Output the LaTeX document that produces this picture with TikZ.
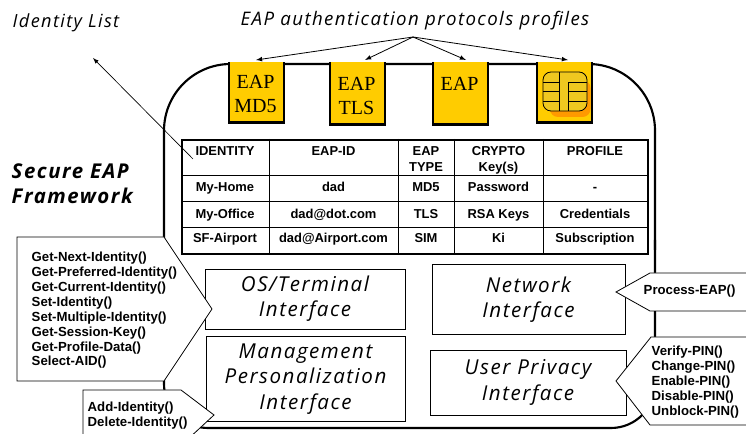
\documentclass[tikz,border=0pt]{standalone}
\usepackage{fontspec}
\setmainfont{Liberation Sans}
\newfontfamily\handfont[LetterSpace=7.5]{Open Sans}
\newfontfamily\tabfont{Liberation Serif}
\definecolor{tabyellow}{HTML}{FFCC00}
\definecolor{chipyellow}{HTML}{EFC820}
\definecolor{chiporange}{HTML}{FF9900}
\tikzset{
  hand/.style={font=\handfont\itshape\fontsize{14}{19}\selectfont},
  iface/.style={draw,fill=white,line width=0.6pt,align=center,font=\handfont\itshape\fontsize{15.4}{18.9}\selectfont},
  cell/.style={align=center,font=\bfseries\fontsize{9.7}{11.8}\selectfont},
  rowcell/.style={cell,anchor=base},
  func/.style={align=left,anchor=west,font=\bfseries\fontsize{9.9}{11.15}\selectfont},
  callout/.style={draw,fill=white,line width=0.6pt},
  frame/.style={line width=1.6pt},
  tabcard/.style={fill=tabyellow,minimum width=41.25pt,minimum height=45pt,inner sep=0pt,anchor=north},
  tabtext/.style={align=center,font=\tabfont\fontsize{15}{17.6}\selectfont}
}
\begin{document}
\begin{tikzpicture}[x=0.75pt,y=-0.75pt]
\useasboundingbox (0,0) rectangle (746,434);
% outer frame
\draw[frame,rounded corners=50pt] (164,250) |- (400,64) -| (655,250);
\draw[frame,rounded corners=33pt] (655,240) |- (400,428) -| (164,240);
% profile cards
\node[tabcard] (md5) at (256.5,62) {};
\node[tabcard,minimum height=46.5pt] (tls) at (357.5,62) {};
\node[tabcard,minimum height=46.5pt] (eap) at (460.5,62) {};
\node[tabcard] (sim) at (564.5,62) {};
\foreach \card in {md5,tls,eap,sim}
  \draw[line width=1.6pt] (\card.north west) |- (\card.south east) -- (\card.north east);
\node[tabtext] (md5text) at (255.5,94) {EAP\\MD5};
\node[tabtext] (tlstext) at (356.5,96) {EAP\\TLS};
\node[tabtext] (eaptext) at (459.5,84) {EAP};
% chip
\fill[chiporange,rounded corners=6pt] (550,80) rectangle (590.5,117);
\draw[fill=chipyellow,rounded corners=6pt,line width=0.6pt] (543,72) rectangle (587,111);
\draw[line width=0.6pt] (559,72) -- (559,111) (543,82) -- (559,82) (543,91) -- (559,91) (543,101) -- (559,101)
  (568,111) -- (568,82) -- (587,82) (568,91.5) -- (587,91.5) (568,101.5) -- (587,101.5);
% titles
\node[hand] (profiles) at (415,21) {EAP authentication protocols profiles};
\node[hand,anchor=west,font=\handfont\itshape\fontsize{13.6}{16}\selectfont] (idlist) at (8,23) {Identity List};
\node[anchor=west,align=left,font=\handfont\bfseries\itshape\fontsize{15.3}{18.6}\selectfont] (secure) at (7,184) {Secure EAP\\Framework};
\coordinate (apex) at (413,37);
\foreach \card/\tipx in {md5/256,tls/365,eap/466,sim/568}
  \draw[-latex,line width=0.6pt] (apex) -- (\tipx,60);
% table
\node[draw,line width=1.6pt,minimum width=349.5pt,minimum height=85.5pt,inner sep=0pt,anchor=north west] (idtable) at (181,139) {};
\foreach \colx in {269,398,454,543}
  \draw[line width=0.5pt] (\colx,139) -- (\colx,253);
\foreach \rowy in {175,201,227}
  \draw[line width=0.5pt] (181,\rowy) -- (647,\rowy);
\foreach \num/\colx/\head/\rowa/\rowb/\rowc in {
  1/225/IDENTITY/My-Home/My-Office/SF-Airport,
  2/333.5/EAP-ID/dad/dad@dot.com/dad@Airport.com,
  3/426/EAP\\TYPE/MD5/TLS/SIM,
  4/498.5/CRYPTO\\Key(s)/Password/RSA Keys/Ki,
  5/595/PROFILE/-/Credentials/Subscription}{
  \node[cell,anchor=north] (head\num) at (\colx,142) {\head};
  \node[rowcell] (a\num) at (\colx,192) {\rowa};
  \node[rowcell] (b\num) at (\colx,218.5) {\rowb};
  \node[rowcell] (c\num) at (\colx,243) {\rowc};
}
\coordinate (idfoot) at (193,159);
\draw[-latex,line width=0.5pt] (idfoot) -- (93,58);
% interfaces
\node[iface,minimum width=150pt,minimum height=45pt] (osif) at (305,299) {OS/Terminal\\Interface};
\node[iface,minimum width=144.75pt,minimum height=52.5pt] (netif) at (528.5,299.5) {Network\\Interface};
\node[iface,minimum width=149.25pt,minimum height=63.75pt] (mgmtif) at (305.5,379) {Management\\Personalization\\Interface};
\node[iface,minimum width=147pt,minimum height=48.75pt] (userif) at (528,382.5) {User Privacy\\Interface};
% function lists
\draw[callout] (17,237) -- (164,237) -- (212,309) -- (164,381) -- (17,381) -- cycle;
\draw[callout] (83,390) -- (181,390) -- (214,415) -- (187,440) -- (83,440) -- cycle;
\draw[callout] (750,273) -- (650,273) -- (616,292) -- (650,311) -- (750,311);
\draw[callout] (750,337) -- (651,337) -- (616,381) -- (650,425) -- (750,425);
\node[func] (identfuncs) at (27,310.5) {Get-Next-Identity()\\Get-Preferred-Identity()\\Get-Current-Identity()\\Set-Identity()\\Set-Multiple-Identity()\\Get-Session-Key()\\Get-Profile-Data()\\Select-AID()};
\node[func] (addfuncs) at (83,416) {Add-Identity()\\Delete-Identity()};
\node[func] (procfunc) at (639,291) {Process-EAP()};
\node[func] (pinfuncs) at (647,382) {Verify-PIN()\\Change-PIN()\\Enable-PIN()\\Disable-PIN()\\Unblock-PIN()};
\end{tikzpicture}
\end{document}
